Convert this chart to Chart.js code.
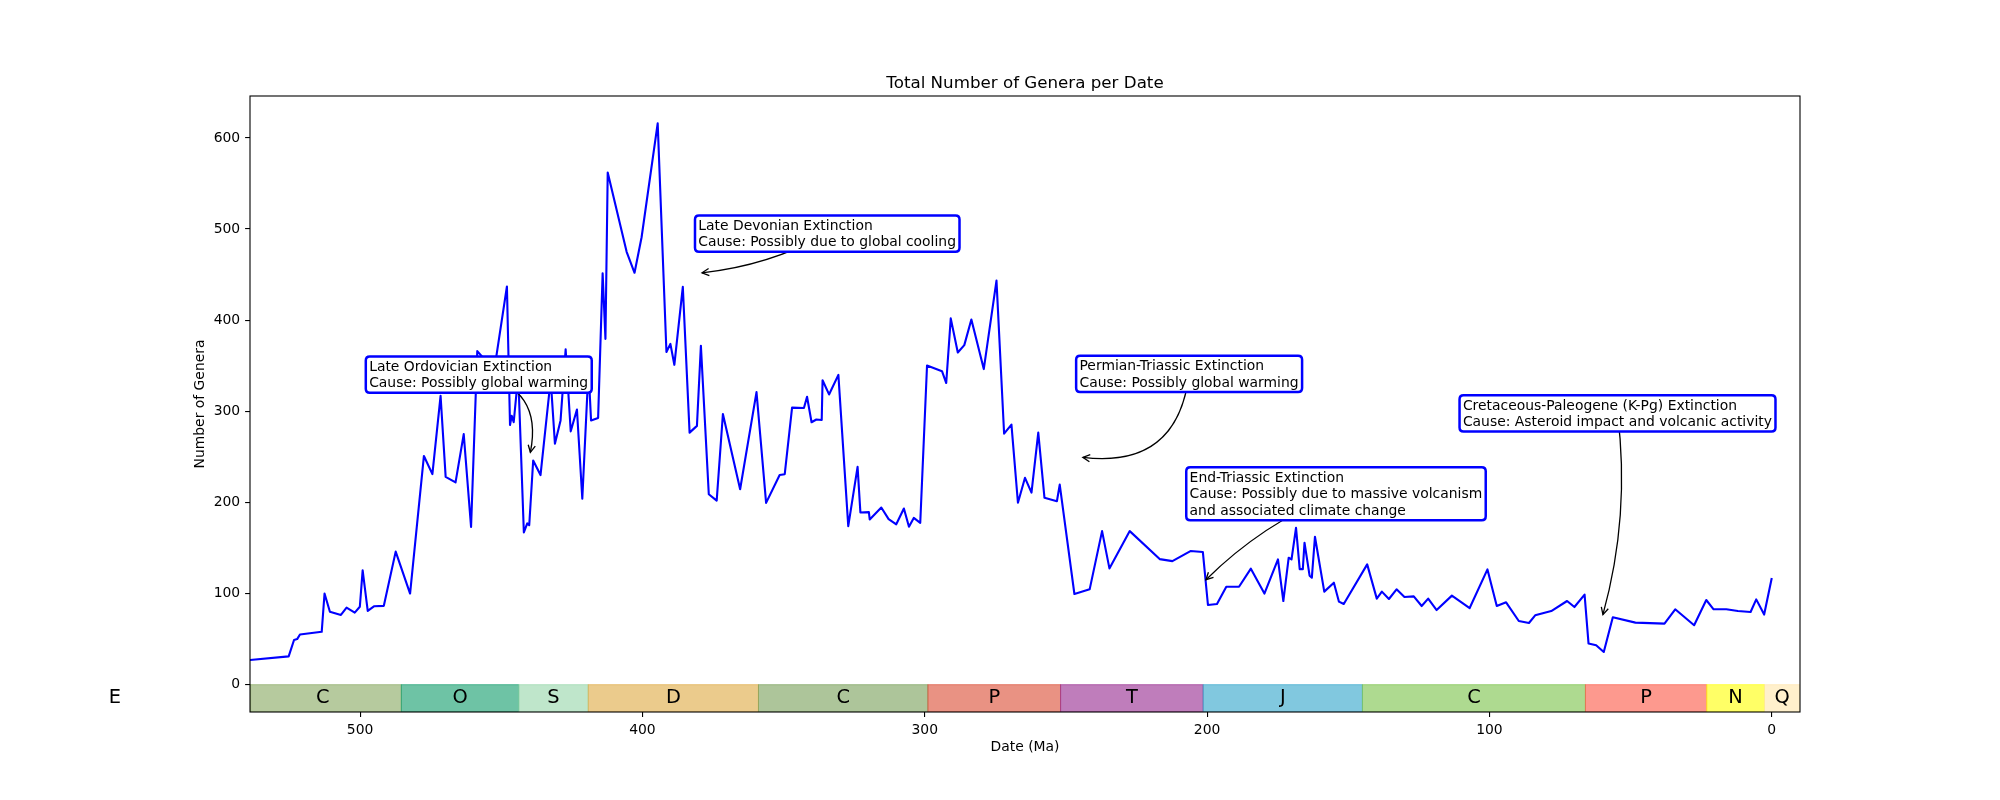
<!DOCTYPE html>
<html>
<head>
<meta charset="utf-8">
<title>Total Number of Genera per Date</title>
<script src="https://cdn.jsdelivr.net/npm/chart.js@4.4.1/dist/chart.umd.min.js"></script>
<style>
  html, body { margin: 0; padding: 0; background: #fff; }
  canvas { display: block; }
</style>
</head>
<body>
<canvas id="generaChart" width="2000" height="800"></canvas>
<script>
// Genus counts (date in Ma, count)
const dates = [
  539, 525.3, 523.4, 522.3, 521.3, 513.6, 512.6, 510.7, 506.8, 504.8, 501.9, 500.1, 499.1, 497.3, 495.1, 491.6,
  487.4, 482.3, 477.4, 474.4, 471.5, 469.7, 466.2, 463.3, 460.7, 458.5, 452.5, 448.0, 446.9, 446.3, 445.6, 444.0,
  442.0, 440.8, 440.1, 438.7, 436.1, 432.5, 431.0, 429.0, 427.2, 425.4, 423.2, 421.3, 419.5, 419.0, 418.2, 415.7,
  414.1, 413.1, 412.3, 405.6, 402.8, 400.3, 394.6, 391.5, 390.1, 388.7, 385.7, 383.3, 380.7, 379.3, 376.5, 373.7,
  371.5, 365.4, 359.6, 356.2, 351.4, 349.6, 347.0, 342.8, 341.7, 340.1, 338.4, 336.5, 336.2, 333.9, 330.6, 327.1,
  323.8, 322.8, 319.8, 319.5, 315.4, 312.8, 310.1, 307.4, 305.6, 303.9, 301.6, 299.2, 293.9, 292.4, 290.8, 288.3,
  286.0, 283.5, 279.1, 274.6, 271.9, 269.3, 267.0, 264.5, 262.2, 259.8, 257.6, 253.2, 252.2, 247.0, 241.6, 237.2,
  234.6, 227.4, 216.8, 212.3, 205.9, 201.5, 199.7, 196.5, 193.2, 188.7, 184.5, 179.7, 174.9, 173.0, 171.1, 170.1,
  168.5, 167.2, 166.1, 165.5, 163.7, 162.9, 161.8, 158.5, 155.1, 153.3, 151.6, 143.3, 139.9, 138.1, 135.6, 132.9,
  130.1, 126.8, 124.0, 121.7, 118.7, 113.3, 107.0, 100.7, 97.4, 94.1, 89.6, 86.0, 83.8, 78.1, 72.5, 69.9,
  66.3, 64.9, 62.2, 59.5, 56.3, 48.3, 38.0, 34.2, 27.5, 23.2, 20.6, 16.1, 12.0, 7.5, 5.5, 2.7,
  0
];
const genera = [
  27, 31, 49, 50, 55, 58, 100, 80, 76.5, 84.5, 79, 85.5, 125.5, 81, 86, 86.5,
  146, 100, 251, 231, 317, 228, 222, 275, 173, 366, 345, 437, 285, 295, 288, 340,
  167, 177, 175, 246, 230, 335, 264.5, 290, 368, 278, 302, 204, 321, 340, 290, 292.6,
  451.5, 379.5, 562, 475, 452, 491, 616, 365, 374, 351, 436.5, 276.6, 284, 372, 209, 202,
  297, 214.5, 321, 199.5, 230, 231, 304, 303.6, 316, 288, 291, 290.5, 334, 318.5, 340, 174,
  239, 189, 189.3, 181.3, 194.4, 181.6, 176, 193.3, 173.3, 183, 177.6, 350.3, 344, 331, 402, 364.5,
  372.6, 400.7, 346.3, 443.4, 275.5, 285.3, 199.6, 227, 210.8, 276.6, 205, 201.3, 219.6, 99.5, 104.6, 168.5,
  127.6, 168.5, 137.8, 135.6, 146.6, 145.5, 87.4, 88.5, 107.5, 107.5, 127.3, 100, 137.5, 91.8, 139.3, 137.5,
  172.2, 126.8, 126.8, 155.7, 119.6, 117.4, 162.3, 102.1, 111.9, 91.1, 88.5, 132, 94.4, 102.1, 94, 104.6,
  96.2, 96.9, 86.3, 94.4, 81.9, 97.7, 84.1, 126.5, 86.3, 90.4, 69.9, 67.7, 76.1, 80.8, 91.8, 85.2,
  98.8, 45.1, 43.3, 35.9, 73.9, 68.1, 67, 82.7, 65.2, 92.9, 82.7, 82.7, 80.8, 79.7, 93.6, 76.9,
  117
];

// Geologic periods (Ma)
const periodNames  = ['E', 'C', 'O', 'S', 'D', 'C', 'P', 'T', 'J', 'C', 'P', 'N', 'Q'];
const periodStarts = [635, 541, 485.4, 443.8, 419.2, 358.9, 298.9, 251.9, 201.4, 145, 66, 23.03, 2.58];
const periodEnds   = [538.8, 485.4, 443.8, 419.2, 358.9, 298.9, 251.9, 201.4, 145, 66, 23.03, 2.58, -10];
const periodColors = ['#8fb36a', '#85a75d', '#0d9b69', '#94d5a8', '#dea83f', '#769e57',
                      '#da4930', '#94268e', '#2da3ca', '#78c146', '#fc5543', '#ffff00', '#ffe6aa'];

const xTicks = [500, 400, 300, 200, 100, 0];
const yTicks = [0, 100, 200, 300, 400, 500, 600];

// Extinction annotations
const annoTexts = [
  ['Late Ordovician Extinction', 'Cause: Possibly global warming'],
  ['Late Devonian Extinction', 'Cause: Possibly due to global cooling'],
  ['Permian-Triassic Extinction', 'Cause: Possibly global warming'],
  ['End-Triassic Extinction', 'Cause: Possibly due to massive volcanism', 'and associated climate change'],
  ['Cretaceous-Paleogene (K-Pg) Extinction', 'Cause: Asteroid impact and volcanic activity']
];
const annoTextX = [496.8, 380.2, 245.2, 206.2, 109.4];
const annoTextY = [361.6, 516.3, 362.4, 240.0, 319.0];
const annoTipX  = [439.7, 378.9, 244.0, 200.4, 59.8];
const annoTipY  = [255, 452, 249.4, 115.2, 76.9];
const annoRad   = [-0.5, -0.1, -0.5, 0.1, -0.1];

const FONT = '"DejaVu Sans", "Liberation Sans", sans-serif';

// colored period strip under the zero line
const periodStrip = {
  id: 'periodStrip',
  beforeDatasetsDraw(chart) {
    const { ctx, chartArea, scales: { x, y } } = chart;
    const top = y.getPixelForValue(0);
    const bottom = y.getPixelForValue(-30);
    ctx.save();
    ctx.beginPath();
    ctx.rect(chartArea.left, chartArea.top, chartArea.width, chartArea.height);
    ctx.clip();
    ctx.globalAlpha = 0.6;
    ctx.lineWidth = 1;
    periodNames.forEach((name, i) => {
      const xa = x.getPixelForValue(periodStarts[i]);
      const xb = x.getPixelForValue(periodEnds[i]);
      ctx.fillStyle = periodColors[i];
      ctx.strokeStyle = periodColors[i];
      ctx.fillRect(xa, top, xb - xa, bottom - top);
      ctx.strokeRect(xa, top, xb - xa, bottom - top);
    });
    ctx.restore();

    // labels are not clipped (the Ediacaran "E" sits left of the axes)
    ctx.save();
    ctx.fillStyle = '#000';
    ctx.font = '19.4px ' + FONT;
    ctx.textAlign = 'center';
    ctx.textBaseline = 'middle';
    const ly = y.getPixelForValue(-15);
    periodNames.forEach((name, i) => {
      const cx = x.getPixelForValue((periodStarts[i] + periodEnds[i]) / 2);
      ctx.fillText(name, cx, ly);
    });
    ctx.restore();
  }
};

function roundRect(ctx, x, y, w, h, r) {
  ctx.beginPath();
  ctx.moveTo(x + r, y);
  ctx.lineTo(x + w - r, y);
  ctx.quadraticCurveTo(x + w, y, x + w, y + r);
  ctx.lineTo(x + w, y + h - r);
  ctx.quadraticCurveTo(x + w, y + h, x + w - r, y + h);
  ctx.lineTo(x + r, y + h);
  ctx.quadraticCurveTo(x, y + h, x, y + h - r);
  ctx.lineTo(x, y + r);
  ctx.quadraticCurveTo(x, y, x + r, y);
  ctx.closePath();
}

// boxed annotations with curved arrows
const extinctionNotes = {
  id: 'extinctionNotes',
  afterDatasetsDraw(chart) {
    const { ctx, scales: { x, y } } = chart;
    ctx.save();
    ctx.font = '13.9px ' + FONT;
    annoTexts.forEach((lines, i) => {
      const textLeft = x.getPixelForValue(annoTextX[i]);
      const boxTop = y.getPixelForValue(annoTextY[i]);
      const maxW = Math.max(...lines.map(l => ctx.measureText(l).width));
      const bx = textLeft - 4.6;
      const bw = maxW + 9.4;
      const bh = 22.2 + (lines.length - 1) * 16.67;
      const sx = bx + bw / 2, sy = boxTop + bh / 2;
      const ex = x.getPixelForValue(annoTipX[i]);
      const ey = y.getPixelForValue(annoTipY[i]);
      const f = annoRad[i];
      const cx = (sx + ex) / 2 - f * (ey - sy);
      const cy = (sy + ey) / 2 + f * (ex - sx);

      // arrow
      ctx.strokeStyle = '#000';
      ctx.lineWidth = 1.3;
      ctx.beginPath();
      ctx.moveTo(sx, sy);
      ctx.quadraticCurveTo(cx, cy, ex, ey);
      ctx.stroke();
      const ang = Math.atan2(ey - cy, ex - cx);
      const hl = 7, hw = 3.6;
      ctx.beginPath();
      ctx.moveTo(ex - hl * Math.cos(ang) + hw * Math.sin(ang), ey - hl * Math.sin(ang) - hw * Math.cos(ang));
      ctx.lineTo(ex, ey);
      ctx.lineTo(ex - hl * Math.cos(ang) - hw * Math.sin(ang), ey - hl * Math.sin(ang) + hw * Math.cos(ang));
      ctx.stroke();

      // box
      roundRect(ctx, bx + 1.25, boxTop + 1.25, bw - 2.5, bh - 2.5, 4);
      ctx.fillStyle = '#fff';
      ctx.fill();
      ctx.lineWidth = 2.5;
      ctx.strokeStyle = '#0000ff';
      ctx.stroke();

      ctx.fillStyle = '#000';
      ctx.textAlign = 'left';
      ctx.textBaseline = 'alphabetic';
      lines.forEach((l, j) => ctx.fillText(l, textLeft, boxTop + 15.6 + j * 16.67));
    });
    ctx.restore();
  }
};

// frame, title and axis labels
const frameAndTitles = {
  id: 'frameAndTitles',
  afterDraw(chart) {
    const { ctx, chartArea } = chart;
    ctx.save();
    ctx.strokeStyle = '#000';
    ctx.lineWidth = 1.1;
    ctx.strokeRect(chartArea.left, chartArea.top, chartArea.width, chartArea.height);

    const midX = (chartArea.left + chartArea.right) / 2;
    ctx.fillStyle = '#000';
    ctx.textAlign = 'center';
    ctx.font = '16.7px ' + FONT;
    ctx.textBaseline = 'alphabetic';
    ctx.fillText('Total Number of Genera per Date', midX, chartArea.top - 8.5);

    ctx.font = '13.9px ' + FONT;
    ctx.textBaseline = 'top';
    ctx.fillText('Date (Ma)', midX, 740);

    ctx.translate(200, (chartArea.top + chartArea.bottom) / 2);
    ctx.rotate(-Math.PI / 2);
    ctx.textBaseline = 'middle';
    ctx.fillText('Number of Genera', 0, 0);
    ctx.restore();
  }
};

const tickFont = { family: FONT, size: 13.9 };

new Chart(document.getElementById('generaChart'), {
  type: 'line',
  data: {
    datasets: [{
      label: 'Total Genera',
      data: dates.map((d, i) => ({ x: d, y: genera[i] })),
      borderColor: '#0000ff',
      borderWidth: 2.1,
      pointRadius: 0,
      tension: 0,
      borderJoinStyle: 'round',
      fill: false
    }]
  },
  options: {
    responsive: false,
    animation: false,
    devicePixelRatio: 1,
    layout: { padding: { top: 96, right: 200, left: 0, bottom: 0 } },
    plugins: {
      legend: { display: false },
      tooltip: { enabled: false },
      title: { display: false }
    },
    scales: {
      x: {
        type: 'linear',
        reverse: true,
        min: -10,
        max: 539,
        afterFit: (scale) => { scale.height = 88; },
        afterBuildTicks: (scale) => { scale.ticks = xTicks.map(v => ({ value: v })); },
        grid: { drawOnChartArea: false, drawTicks: true, tickLength: 4.9, color: '#000', lineWidth: 1.1 },
        border: { display: false },
        ticks: { font: tickFont, color: '#000', padding: 4.9, autoSkip: false, maxRotation: 0 }
      },
      y: {
        type: 'linear',
        min: -30,
        max: 646,
        afterFit: (scale) => { scale.width = 250; },
        afterBuildTicks: (scale) => { scale.ticks = yTicks.map(v => ({ value: v })); },
        grid: { drawOnChartArea: false, drawTicks: true, tickLength: 4.9, color: '#000', lineWidth: 1.1 },
        border: { display: false },
        ticks: { font: tickFont, color: '#000', padding: 4.9, autoSkip: false }
      }
    }
  },
  plugins: [periodStrip, extinctionNotes, frameAndTitles]
});
</script>
</body>
</html>
